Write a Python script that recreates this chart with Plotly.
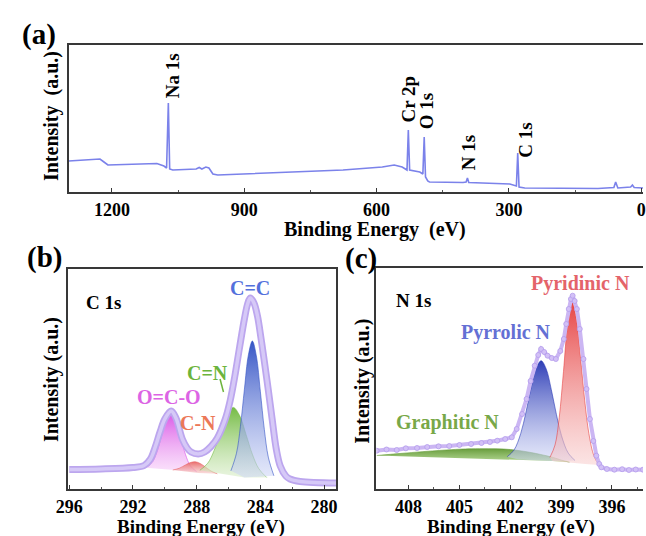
import plotly.graph_objects as go

# ---------------- data ----------------
# (a) survey spectrum (binding energy eV, intensity a.u.)
survey_be = [1298, 1227, 1218, 1209, 1098, 1082, 1076, 1072, 1069, 1062,
             1009, 1002, 996, 987, 980, 971, 960, 676, 587, 560,
             542, 531, 528, 525, 502, 495, 492, 489, 484, 480,
             404, 397, 394, 391, 298, 283, 280, 277, 264, 98,
             62, 58, 53, 24, 20, 16, -4]
survey_int = [31, 33, 30, 27, 28.5, 26, 24, 89, 23, 22,
              23, 24.5, 23, 25, 24, 18, 17, 22, 25, 27,
              25, 22, 62, 22, 20, 18, 55, 15, 11, 10,
              9.5, 10, 14, 9.5, 8, 6, 39, 5, 4, 3.5,
              4.5, 10, 4, 5, 7, 4.5, 4]
survey_ticks = [1200, 900, 600, 300, 0]
survey_minor = [1050, 750, 450, 150]
survey_peak_labels = ["Na 1s", "Cr 2p", "O 1s", "N 1s", "C 1s"]

# (b) C 1s
c1s_be = [296.0, 294.0, 292.0, 291.3, 290.9, 290.6, 290.3, 290.0, 289.6, 289.3,
          288.9, 288.6, 288.35, 287.9, 287.5, 287.1, 286.7, 286.2, 285.9, 285.6,
          285.3, 285.0, 284.8, 284.63, 284.4, 284.18, 283.97, 283.77, 283.5, 283.26,
          283.0, 282.75, 282.4, 282.14, 281.5, 279.2]
c1s_int = [19.5, 20.0, 21.5, 23.5, 30, 42, 57, 70, 78, 71,
           50, 41, 37, 35, 37, 42.5, 51, 70, 88, 113,
           142, 170, 185, 191, 186, 173, 152, 130, 99, 70,
           40, 23, 13, 10, 7.5, 6]
c1s_bg_be = [296.0, 291.5, 287.9, 285.0, 283.0, 279.2]
c1s_bg_int = [19.0, 20.5, 16.0, 11.5, 7.5, 6.0]
oco_be = [291.2, 290.8, 290.5, 290.2, 289.9, 289.6, 289.3, 289.0, 288.7, 288.4, 288.0]
oco_int = [21.3, 26.3, 36.7, 53.5, 70.7, 78.1, 70.0, 52.1, 34.5, 23.3, 17.3]
cn_be = [289.5, 289.1, 288.7, 288.4, 288.1, 287.8, 287.5, 287.1, 286.7]
cn_int = [19.0, 20.7, 24.1, 26.4, 27.3, 25.7, 22.6, 18.0, 15.2]
cdn_be = [287.8, 287.3, 286.9, 286.5, 286.1, 285.7, 285.3, 284.9, 284.5, 284.1, 283.6]
cdn_int = [18.7, 25.8, 38.6, 57.1, 74.6, 81.6, 73.4, 54.6, 34.7, 20.4, 11.5]
cc_be = [285.85, 285.5, 285.25, 285.0, 284.75, 284.5, 284.25, 284.0, 283.75, 283.5, 283.15]
cc_int = [18.2, 35.7, 62.6, 99.8, 134.1, 148.0, 133.1, 97.8, 59.7, 31.9, 13.2]
c1s_ticks = [296, 292, 288, 284, 280]
c1s_minor = [294, 290, 286, 282]

# (c) N 1s
n1s_be = [409.88, 409.3, 408.7, 408.16, 407.5, 406.9, 406.23, 405.6, 405.0, 404.31,
          403.7, 403.2, 402.77, 402.3, 401.91, 401.62, 401.3, 401.04, 400.8, 400.56,
          400.35, 400.18, 400.0, 399.8, 399.55, 399.31, 399.05, 398.84, 398.7, 398.55,
          398.42, 398.32, 398.2, 398.07, 397.9, 397.68, 397.5, 397.3, 397.1, 396.92,
          396.75, 396.63, 396.3, 395.86, 395.4, 395.0, 394.6, 394.17]
n1s_int = [38.3, 39.5, 39.0, 40.7, 41.0, 42.0, 42.7, 43.0, 44.0, 45.0,
           46.0, 47.0, 48.3, 50.0, 51.7, 60, 75, 90, 108, 123.3,
           134, 140, 137, 133.3, 131, 130, 138, 150, 165, 180,
           190, 193.3, 188, 180, 160, 130, 100, 70, 48, 33.3,
           25, 21.7, 20.0, 19.3, 19.8, 19.0, 19.5, 19.3]
n1s_bg_be = [409.88, 404.31, 401.5, 399.51, 397.58, 396.63, 394.17]
n1s_bg_int = [32.0, 30.5, 29.5, 28.0, 25.0, 21.0, 19.5]
gra_be = [409.88, 408.5, 407.2, 406.0, 405.0, 404.3, 403.3, 402.4, 401.6, 400.85, 400.2, 399.5, 399.0, 398.5]
gra_int = [33.5, 35.5, 37.3, 38.8, 39.8, 40.2, 40.3, 40.0, 38.7, 36.7, 34.5, 31.7, 29.0, 26.8]
pyr_be = [402.18, 401.78, 401.38, 401.08, 400.78, 400.48, 400.18, 399.88, 399.58, 399.28, 398.98, 398.58, 398.18]
pyr_int = [32.3, 38.9, 55.6, 76.3, 100.4, 120.5, 128.3, 120.1, 99.5, 74.7, 53.4, 35.9, 28.5]
pyd_be = [399.66, 399.36, 399.11, 398.86, 398.61, 398.36, 398.11, 397.86, 397.61, 397.36, 397.06, 396.76]
pyd_int = [31.6, 44.0, 71.7, 117.6, 165.8, 186.7, 170.7, 132.0, 88.8, 55.2, 32.8, 23.9]
n1s_ticks = [408, 405, 402, 399, 396]
n1s_minor = [406.5, 403.5, 400.5, 397.5, 394.5]

# ---------------- figure ----------------
W, H = 646, 536
FONT = "Liberation Serif, Times New Roman, serif"


def PX(x):
    return x / W


def PY(y):
    return 1 - y / H


fig = go.Figure()


def add_component(xa, ya, comp_x, comp_y, bg_x, bg_y, c_bot, c_top):
    hi, lo = comp_x[0], comp_x[-1]
    bx = [comp_x[0]] + [b for b in bg_x if lo < b < hi] + [comp_x[-1]]
    by = [comp_y[0]] + [v for b, v in zip(bg_x, bg_y) if lo < b < hi] + [comp_y[-1]]
    fig.add_trace(go.Scatter(x=bx, y=by, mode="lines", line=dict(width=0),
                             xaxis=xa, yaxis=ya, hoverinfo="skip"))
    fig.add_trace(go.Scatter(x=comp_x, y=comp_y, mode="lines",
                             line=dict(width=0.6, color=c_top, shape="spline"),
                             fill="tonexty",
                             fillgradient=dict(type="vertical",
                                               colorscale=[[0, c_bot], [1, c_top]]),
                             xaxis=xa, yaxis=ya, hoverinfo="skip"))


# (a)
fig.add_trace(go.Scatter(x=survey_be, y=survey_int, mode="lines",
                         line=dict(color="#7b82ea", width=1.6),
                         xaxis="x", yaxis="y"))

# (b)
add_component("x2", "y2", oco_be, oco_int, c1s_bg_be, c1s_bg_int,
              "rgba(246,200,248,0.55)", "rgba(214,72,228,0.95)")
add_component("x2", "y2", cn_be, cn_int, c1s_bg_be, c1s_bg_int,
              "rgba(246,200,200,0.6)", "rgba(232,100,100,0.95)")
add_component("x2", "y2", cdn_be, cdn_int, c1s_bg_be, c1s_bg_int,
              "rgba(214,236,196,0.55)", "rgba(110,184,60,0.95)")
add_component("x2", "y2", cc_be, cc_int, c1s_bg_be, c1s_bg_int,
              "rgba(206,214,246,0.55)", "rgba(48,80,196,0.97)")
fig.add_trace(go.Scatter(x=c1s_be, y=c1s_int, mode="lines",
                         line=dict(color="#bca6ee", width=7, shape="spline"),
                         xaxis="x2", yaxis="y2"))
fig.add_trace(go.Scatter(x=c1s_be, y=c1s_int, mode="lines",
                         line=dict(color="#d6c9f7", width=3.5, shape="spline"),
                         xaxis="x2", yaxis="y2"))

# (c)
add_component("x3", "y3", gra_be, gra_int, n1s_bg_be, n1s_bg_int,
              "rgba(160,204,120,0.8)", "rgba(96,152,50,0.95)")
add_component("x3", "y3", pyr_be, pyr_int, n1s_bg_be, n1s_bg_int,
              "rgba(206,212,246,0.55)", "rgba(40,56,180,0.97)")
add_component("x3", "y3", pyd_be, pyd_int, n1s_bg_be, n1s_bg_int,
              "rgba(248,206,206,0.55)", "rgba(230,64,64,0.97)")
fig.add_trace(go.Scatter(x=n1s_be, y=n1s_int, mode="lines+markers",
                         line=dict(color="#cbb6f3", width=4),
                         marker=dict(size=5, color="#d2c0f6",
                                     line=dict(color="#b49cec", width=0.8)),
                         xaxis="x3", yaxis="y3"))

axis_line = dict(showline=True, linecolor="#383838", linewidth=2,
                 showgrid=False, zeroline=False)
tickf = dict(family=FONT, size=18, color="black", weight="bold")

fig.update_layout(
    width=W, height=H,
    margin=dict(l=0, r=0, t=0, b=0),
    paper_bgcolor="white", plot_bgcolor="white",
    showlegend=False,
    font=dict(family=FONT, size=18, color="black", weight="bold"),
    xaxis=dict(domain=[PX(58), 1.0], range=[1298, -4], anchor="y",
               tickmode="array", tickvals=survey_ticks, ticks="inside", ticklen=4,
               tickcolor="#383838", ticklabeloverflow="allow",
               minor=dict(tickmode="array", tickvals=survey_minor, ticks="inside",
                          ticklen=2, tickcolor="#555"),
               mirror=True, tickfont=tickf, **axis_line),
    yaxis=dict(domain=[PY(192), PY(45)], range=[0, 147], anchor="x",
               showticklabels=False, ticks="", mirror=False, **axis_line),
    xaxis2=dict(domain=[PX(57), PX(332)], range=[296.1, 279.23], anchor="y2",
                tickmode="array", tickvals=c1s_ticks, ticks="inside", ticklen=4,
                tickcolor="#383838",
                minor=dict(tickmode="array", tickvals=c1s_minor, ticks="inside",
                           ticklen=2, tickcolor="#555"),
                mirror=True, tickfont=tickf, **axis_line),
    yaxis2=dict(domain=[PY(489), PY(269)], range=[0, 220], anchor="x2",
                showticklabels=False, ticks="", mirror=True, **axis_line),
    xaxis3=dict(domain=[PX(373), 1.0], range=[409.9, 394.17], anchor="y3",
                tickmode="array", tickvals=n1s_ticks, ticks="inside", ticklen=4,
                tickcolor="#383838", ticklabeloverflow="allow",
                minor=dict(tickmode="array", tickvals=n1s_minor, ticks="inside",
                           ticklen=2, tickcolor="#555"),
                mirror=True, tickfont=tickf, **axis_line),
    yaxis3=dict(domain=[PY(489), PY(268)], range=[0, 221], anchor="x3",
                showticklabels=False, ticks="", mirror=False, **axis_line),
)

anns = []


def ann(text, x, y, size=20, color="black", angle=0):
    anns.append(dict(text=text, x=PX(x), y=PY(y), xref="paper", yref="paper",
                     xanchor="center", yanchor="middle", showarrow=False,
                     textangle=angle,
                     font=dict(family=FONT, size=size, color=color, weight="bold")))


# panel letters
ann("(a)", 28, 34, 29)
ann("(b)", 33, 257, 29)
ann("(c)", 357, 258, 29)

# axis titles
ann("Binding Energy\u00a0 (eV)", 372, 229, 20)
ann("Intensity\u00a0 (a.u.)", 41, 116, 20, angle=-90)
ann("Binding Energy (eV)", 193, 527, 19)
ann("Intensity (a.u.)", 40, 380, 20, angle=-90)
ann("Binding Energy (eV)", 511, 527, 19)
ann("Intensity (a.u.)", 358, 381, 20, angle=-90)

# survey peak labels
for lab, (x, y) in zip(survey_peak_labels,
                       [(165, 76), (406, 99), (424, 111), (468, 153), (525, 140)]):
    ann(lab, x, y, 19, angle=-90)

# C 1s labels
ann("C 1s", 94, 302, 19)
ann("C=C", 244, 288, 20, "#5470dc")
ann("C=N", 200, 373, 20, "#6cb43c")
ann("O=C-O", 161, 397, 20, "#dc64e4")
ann("C-N", 190, 423, 20, "#ec7858")

# N 1s labels
ann("N 1s", 411, 300, 19)
ann("Pyridinic N", 582, 283, 20, "#e4646a")
ann("Pyrrolic N", 506, 332, 20, "#6470d4")
ann("Graphitic N", 446, 422, 20, "#78a848")

fig.update_layout(annotations=anns)
fig.add_shape(type="line", xref="paper", yref="paper",
              x0=PX(213), y0=PY(379), x1=PX(216.5), y1=PY(392),
              line=dict(color="#6cb43c", width=1.5))

fig.write_html("out.html", config={"displayModeBar": False},
               post_script="document.body.style.margin='0';document.body.style.overflow='hidden';")
